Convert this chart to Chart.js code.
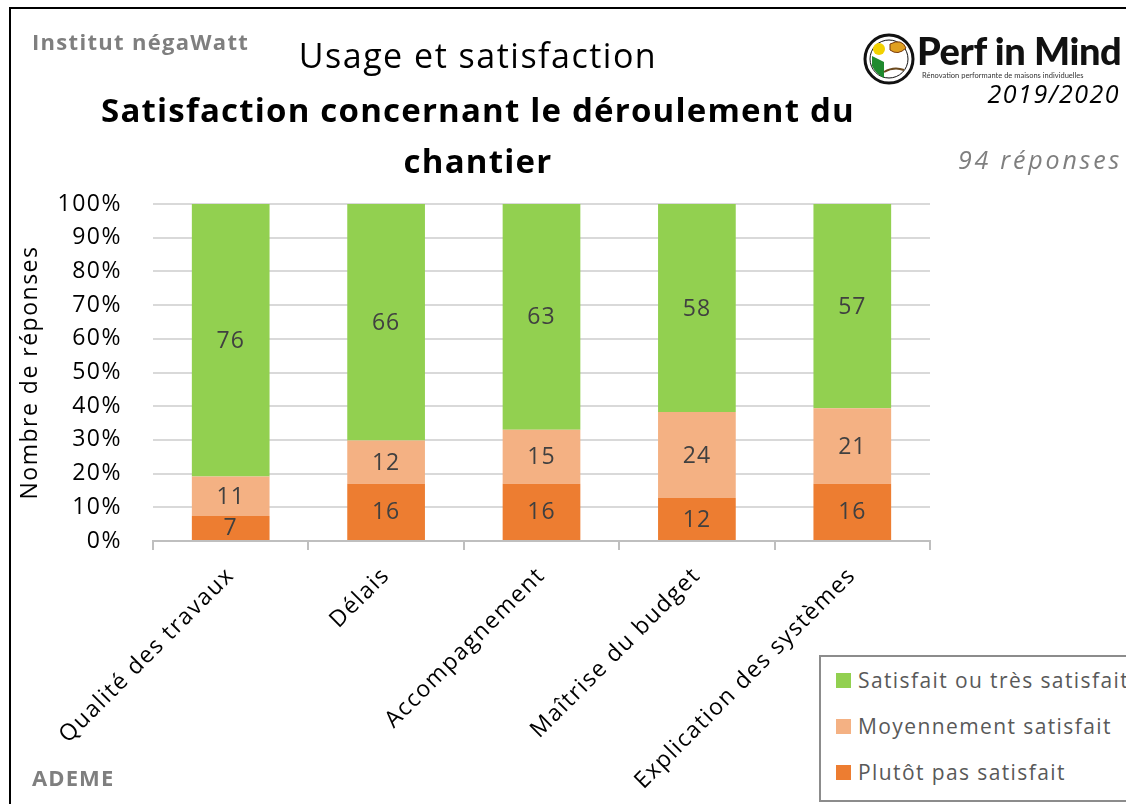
<!DOCTYPE html>
<html lang="fr">
<head>
<meta charset="UTF-8">
<script src="https://cdn.jsdelivr.net/npm/chart.js"></script>
<title>Satisfaction chantier</title>
<style>
  body { margin: 0; background: #fff; font-family: "Open Sans", Lato, sans-serif; }
  #page { position: relative; width: 1126px; height: 804px; overflow: hidden; }
  #cadre { position: absolute; left: 9px; top: 7px; width: 1200px; height: 900px;
           border-top: 2px solid #000; border-left: 2px solid #000; }
  #chart { position: absolute; left: 0; top: 0; }
  .txt { position: absolute; white-space: nowrap; }
  #institut { left: 32px; top: 26px; font-size: 22px; font-weight: bold; color: #7f7f7f; letter-spacing: 1.3px; }
  #ademe { left: 32px; top: 762px; font-size: 22px; font-weight: bold; color: #7f7f7f; letter-spacing: 1.1px; }
  #usage { left: 0; width: 956px; text-align: center; top: 32px; font-size: 34px; color: #000; letter-spacing: 1.5px; }
  #titre { left: 0; width: 956px; text-align: center; top: 84px; font-size: 33px; font-weight: bold;
           line-height: 51px; color: #000; letter-spacing: 1.2px; }
  #annee { right: 6px; top: 76px; font-size: 25px; font-style: italic; color: #000; letter-spacing: 1.5px; }
  #reponses { right: 4px; top: 142px; font-size: 25px; font-style: italic; color: #7f7f7f; letter-spacing: 2.8px; }
  #logo { left: 862px; top: 32px; }
  #perf { left: 917px; top: 27px; font-size: 38px; font-weight: 900; color: #111; letter-spacing: -0.4px;
          font-family: Lato, sans-serif; }
  #perfsub { left: 922px; top: 71px; font-size: 7.5px; color: #333; font-family: Lato, sans-serif; }
  #legende { position: absolute; left: 819px; top: 655px; width: 320px; height: 143px;
             border: 2px solid #8c8c8c; background: #fff; }
  .item { position: absolute; left: 15px; font-size: 21px; color: #595959; letter-spacing: 1.4px; }
  .item span { display: inline-block; width: 15px; height: 15px; margin-right: 7px; vertical-align: 0px; }
</style>
</head>
<body>
<div id="page">
  <div id="cadre"></div>
  <canvas id="chart" width="1126" height="804"></canvas>
  <div class="txt" id="institut">Institut négaWatt</div>
  <div class="txt" id="ademe">ADEME</div>
  <div class="txt" id="usage">Usage et satisfaction</div>
  <div class="txt" id="titre">Satisfaction concernant le déroulement du<br>chantier</div>
  <svg class="txt" id="logo" width="54" height="54" viewBox="0 0 54 54">
    <circle cx="27" cy="27" r="24" fill="#fff" stroke="#111" stroke-width="3"/>
    <circle cx="27" cy="27" r="19" fill="none" stroke="#111" stroke-width="1"/>
    <circle cx="17" cy="17" r="6" fill="#f2d100"/>
    <path d="M10 24 L22 30 L22 46 Q14 42 10 34 Z" fill="#1f8a2e"/>
    <path d="M28 12 Q40 6 44 16 Q36 24 28 18 Z" fill="#e0a020" stroke="#7a3b0a" stroke-width="1"/>
    <path d="M22 40 Q32 34 42 38" fill="none" stroke="#6b4a1e" stroke-width="2"/>
  </svg>
  <div class="txt" id="perf">Perf in Mind</div>
  <div class="txt" id="perfsub">Rénovation performante de maisons individuelles</div>
  <div class="txt" id="annee">2019/2020</div>
  <div class="txt" id="reponses">94 réponses</div>
  <div id="legende"></div>
</div>

<script>
  // données (nombre de réponses)
  const categories = ['Qualité des travaux', 'Délais', 'Accompagnement', 'Maîtrise du budget', 'Explication des systèmes'];
  const series = ['Plutôt pas satisfait', 'Moyennement satisfait', 'Satisfait ou très satisfait'];
  const pasSatisfait = [7, 16, 16, 12, 16];
  const moyennement = [11, 12, 15, 24, 21];
  const satisfait = [76, 66, 63, 58, 57];
  const couleurs = ['#ed7d31', '#f4b183', '#92d050'];
  const yTicks = [0, 10, 20, 30, 40, 50, 60, 70, 80, 90, 100];

  const comptes = [pasSatisfait, moyennement, satisfait];
  const totaux = categories.map((c, i) => comptes.reduce((s, arr) => s + arr[i], 0));
  const police = '"Open Sans", Lato, sans-serif';

  // espacement des lettres sur le canvas (le rendu d'origine est plus large)
  const espacement = {
    id: 'espacement',
    beforeDraw(chart) { chart.ctx.letterSpacing = '1.5px'; }
  };

  // étiquettes de valeur au centre des segments
  const etiquettes = {
    id: 'etiquettes',
    afterDatasetsDraw(chart) {
      const ctx = chart.ctx;
      ctx.save();
      ctx.font = '23px ' + police;
      ctx.letterSpacing = '1px';
      ctx.fillStyle = '#404040';
      ctx.textAlign = 'center';
      ctx.textBaseline = 'middle';
      chart.data.datasets.forEach((ds, d) => {
        chart.getDatasetMeta(d).data.forEach((bar, i) => {
          const mid = (bar.y + bar.base) / 2;
          ctx.fillText(ds.counts[i], bar.x, mid + 1);
        });
      });
      ctx.restore();
    }
  };

  const ctx = document.getElementById('chart').getContext('2d');
  new Chart(ctx, {
    type: 'bar',
    data: {
      labels: categories,
      datasets: series.map((nom, d) => ({
        label: nom,
        counts: comptes[d],
        data: comptes[d].map((v, i) => v / totaux[i] * 100),
        backgroundColor: couleurs[d],
        borderWidth: 0,
        barPercentage: 0.5,
        categoryPercentage: 1
      }))
    },
    options: {
      responsive: false,
      animation: false,
      layout: { padding: { left: 17, top: 204, right: 196, bottom: 0 } },
      plugins: { legend: { display: false }, tooltip: { enabled: false } },
      scales: {
        x: {
          stacked: true,
          afterFit(scale) { scale.height = 263; },
          border: { color: '#bfbfbf', width: 2 },
          grid: { drawOnChartArea: false, drawTicks: true, tickLength: 9, color: '#bfbfbf', lineWidth: 2 },
          ticks: {
            minRotation: 45, maxRotation: 45, padding: 12,
            color: '#000',
            font: { family: police, size: 23 }
          }
        },
        y: {
          stacked: true,
          min: 0, max: 100,
          afterFit(scale) { scale.width = 136; },
          afterBuildTicks(scale) { scale.ticks = yTicks.map(v => ({ value: v })); },
          border: { display: false },
          grid: { color: '#d9d9d9', lineWidth: 2, drawTicks: false },
          ticks: {
            padding: 31,
            color: '#000',
            font: { family: police, size: 23 },
            callback: v => v + '%'
          },
          title: {
            display: true, text: 'Nombre de réponses', color: '#000',
            font: { family: police, size: 23 },
            padding: { top: 0, bottom: 0 }
          }
        }
      }
    },
    plugins: [espacement, etiquettes]
  });

  // légende (ordre inverse, comme sur l'original)
  const legende = document.getElementById('legende');
  [2, 1, 0].forEach((d, k) => {
    const el = document.createElement('div');
    el.className = 'item';
    el.style.top = (9 + k * 46) + 'px';
    el.innerHTML = '<span style="background:' + couleurs[d] + '"></span>' + series[d];
    legende.appendChild(el);
  });
</script>
</body>
</html>
